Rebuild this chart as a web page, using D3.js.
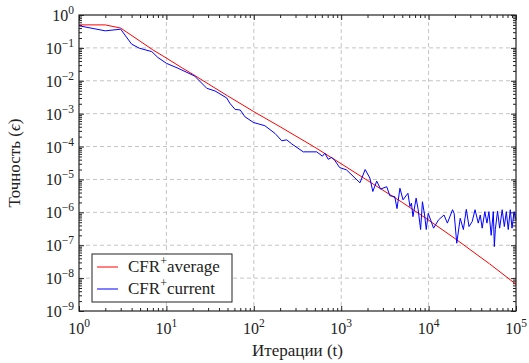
<!DOCTYPE html>
<html>
<head>
<meta charset="utf-8">
<script src="https://cdn.jsdelivr.net/npm/d3@7"></script>
<style>
  body { margin: 0; background: #fff; }
  text { font-family: "Liberation Serif", "DejaVu Serif", serif; fill: #222; }
</style>
</head>
<body>
<div id="chart"></div>
<script>
// CFR+ average (red)
const avgT = [1, 2, 3, 5, 7, 10, 15, 20, 30, 50, 100, 200, 500, 1000, 2000, 5000, 10000, 20000, 50000, 100000];
const avgV = [0.5, 0.5, 0.40, 0.16, 0.087, 0.049, 0.025, 0.0158, 0.0081, 0.0035, 0.00115, 4.0e-4, 9.5e-5, 3.0e-5, 9.3e-6, 2.0e-6, 5.8e-7, 1.6e-7, 2.7e-8, 6.5e-9];

// CFR+ current (blue)
const curT = [1, 2, 3, 4, 4.9, 6.8, 8, 10, 13.6, 21, 29, 36, 49, 53, 61, 70, 79, 99, 134, 175, 209, 238, 272, 368, 525,
  610, 650, 710, 780, 850, 960, 1150, 1640, 1880, 2130, 2300, 2550, 2820, 3320, 3600, 4100, 4350, 4700, 5100, 5800,
  6120, 6360, 6620, 7200, 7600, 8100, 8500, 9000, 9400, 9900, 11400, 13000, 15000, 16400, 18800, 19600, 21000, 23000,
  25000, 27000, 29000, 31500, 34000, 37000, 39000, 41000, 44000, 46500, 49000, 52000, 55000, 56500, 58000, 61500,
  65000, 69500, 73500, 77500, 81500, 86000, 90000, 95000, 100000];
const curV = [0.47, 0.33, 0.37, 0.13, 0.098, 0.077, 0.051, 0.034, 0.024, 0.014, 0.0059, 0.0049, 0.003, 0.0021, 0.00135,
  0.00129, 8.1e-4, 5.4e-4, 4.3e-4, 2.5e-4, 1.5e-4, 1.6e-4, 1.2e-4, 6.9e-5, 6.9e-5,
  5.1e-5, 6.3e-5, 4.1e-5, 4.7e-5, 3.7e-5, 2.3e-5, 1.95e-5, 7.9e-6, 2.0e-5, 1.1e-5, 4.3e-6, 8.9e-6, 5.1e-6, 6.0e-6,
  3.2e-6, 3.0e-6, 1.3e-6, 5.4e-6, 2.4e-6, 3.8e-6,
  1.5e-6, 1.9e-6, 7.4e-7, 2.7e-6, 1.2e-6, 3.0e-7, 2.1e-6, 8.3e-7, 3.0e-7, 9.3e-7, 3.3e-7, 5.9e-7, 8.3e-7, 4.7e-7,
  1.2e-6, 9.3e-7, 1.15e-7, 6.6e-7,
  3.0e-7, 1.23e-6, 3.7e-7, 5.2e-7, 1.2e-6, 4.7e-7, 8.3e-7, 3.3e-7, 1.05e-6, 4.7e-7, 1.05e-6, 2.0e-7, 1.05e-6, 9.1e-8,
  3.0e-7, 1.1e-6,
  3.3e-7, 1.2e-6, 3.7e-7, 1.05e-6, 3.0e-7, 1.2e-6, 3.3e-7, 1.05e-6, 5.9e-7];

const xTickExp = [0, 1, 2, 3, 4, 5];
const yTickExp = [-9, -8, -7, -6, -5, -4, -3, -2, -1, 0];
const seriesNames = ['average', 'current'];
const seriesColors = ['#ff0000', '#0000ff'];

const width = 529, height = 363;
const margin = {top: 15, right: 13, bottom: 52, left: 79};
const w = width - margin.left - margin.right;
const h = height - margin.top - margin.bottom;

const x = d3.scaleLog().domain([1, 1e5]).range([0, w]);
const y = d3.scaleLog().domain([1e-9, 1]).range([h, 0]);

const svg = d3.select('#chart').append('svg')
  .attr('width', width)
  .attr('height', height)
  .append('g')
  .attr('transform', 'translate(' + margin.left + ',' + margin.top + ')');

const xMajor = xTickExp.map(e => Math.pow(10, e));
const yMajor = yTickExp.map(e => Math.pow(10, e));
const minorOf = majors => {
  const out = [];
  majors.slice(0, -1).forEach(m => { for (let k = 2; k <= 9; k++) out.push(m * k); });
  return out;
};
const xMinor = minorOf(xMajor);
const yMinor = minorOf(yMajor);

// grid
svg.append('g').selectAll('line.gx')
  .data(xMajor.slice(1, -1))
  .enter().append('line')
  .attr('x1', d => x(d)).attr('x2', d => x(d))
  .attr('y1', 0).attr('y2', h)
  .attr('stroke', '#c4c4c4').attr('stroke-dasharray', '4,3');
svg.append('g').selectAll('line.gy')
  .data(yMajor.slice(1, -1))
  .enter().append('line')
  .attr('y1', d => y(d)).attr('y2', d => y(d))
  .attr('x1', 0).attr('x2', w)
  .attr('stroke', '#c4c4c4').attr('stroke-dasharray', '4,3');

// ticks on all four sides, pointing inward
function ticks(axis, vals, size, transform) {
  const g = svg.append('g')
    .attr('transform', transform)
    .call(axis.tickValues(vals).tickSize(-size).tickSizeOuter(0).tickFormat(''));
  g.select('.domain').remove();
  g.selectAll('line').attr('stroke', '#222');
}
ticks(d3.axisBottom(x), xMajor, 5, 'translate(0,' + h + ')');
ticks(d3.axisBottom(x), xMinor, 3, 'translate(0,' + h + ')');
ticks(d3.axisTop(x), xMajor, 5, 'translate(0,0)');
ticks(d3.axisTop(x), xMinor, 3, 'translate(0,0)');
ticks(d3.axisLeft(y), yMajor, 5, 'translate(0,0)');
ticks(d3.axisLeft(y), yMinor, 3, 'translate(0,0)');
ticks(d3.axisRight(y), yMajor, 5, 'translate(' + w + ',0)');
ticks(d3.axisRight(y), yMinor, 3, 'translate(' + w + ',0)');

// tick labels
const fmtExp = e => (e < 0 ? '\u2212' + (-e) : '' + e);
xTickExp.forEach(e => {
  const t = svg.append('text')
    .attr('x', x(Math.pow(10, e)))
    .attr('y', h + 23)
    .attr('text-anchor', 'middle')
    .style('font-size', '16px');
  t.append('tspan').text('10');
  t.append('tspan').attr('dy', -7).style('font-size', '11.5px').text(fmtExp(e));
});
yTickExp.forEach(e => {
  const t = svg.append('text')
    .attr('x', -5)
    .attr('y', y(Math.pow(10, e)) + 6)
    .attr('text-anchor', 'end')
    .style('font-size', '16px');
  t.append('tspan').text('10');
  t.append('tspan').attr('dy', -7).style('font-size', '11.5px').text(fmtExp(e));
});

// series
const line = d3.line()
  .x(d => x(d[0]))
  .y(d => y(d[1]));

svg.append('path')
  .datum(avgT.map((t, i) => [t, avgV[i]]))
  .attr('fill', 'none')
  .attr('stroke', seriesColors[0])
  .attr('stroke-width', 1)
  .attr('d', line);

svg.append('path')
  .datum(curT.map((t, i) => [t, curV[i]]))
  .attr('fill', 'none')
  .attr('stroke', seriesColors[1])
  .attr('stroke-width', 1)
  .attr('d', line);

// frame
svg.append('rect')
  .attr('width', w).attr('height', h)
  .attr('fill', 'none').attr('stroke', '#222').attr('stroke-width', 1.2);

// axis titles
svg.append('text')
  .attr('x', w / 2)
  .attr('y', h + 45)
  .attr('text-anchor', 'middle')
  .style('font-size', '17px')
  .text('Итерации (t)');

const yt = svg.append('text')
  .attr('transform', 'translate(' + (-59) + ',' + (h / 2) + ') rotate(-90)')
  .attr('text-anchor', 'middle')
  .style('font-size', '17px');
yt.append('tspan').text('Точность (');
yt.append('tspan').style('font-style', 'italic').text('ϵ');
yt.append('tspan').text(')');

// legend
const lg = svg.append('g').attr('transform', 'translate(13,239)');
lg.append('rect')
  .attr('width', 140).attr('height', 48)
  .attr('fill', '#fff').attr('stroke', '#222').attr('stroke-width', 1);
seriesNames.forEach((name, i) => {
  const yy = 13 + i * 22;
  lg.append('line')
    .attr('x1', 5).attr('x2', 26)
    .attr('y1', yy).attr('y2', yy)
    .attr('stroke', seriesColors[i]);
  const t = lg.append('text')
    .attr('x', 36).attr('y', yy + 5)
    .style('font-size', '17px');
  t.append('tspan').text('CFR');
  t.append('tspan').attr('dy', -7).style('font-size', '12px').text('+');
  t.append('tspan').attr('dy', 7).text(name);
});
</script>
</body>
</html>
